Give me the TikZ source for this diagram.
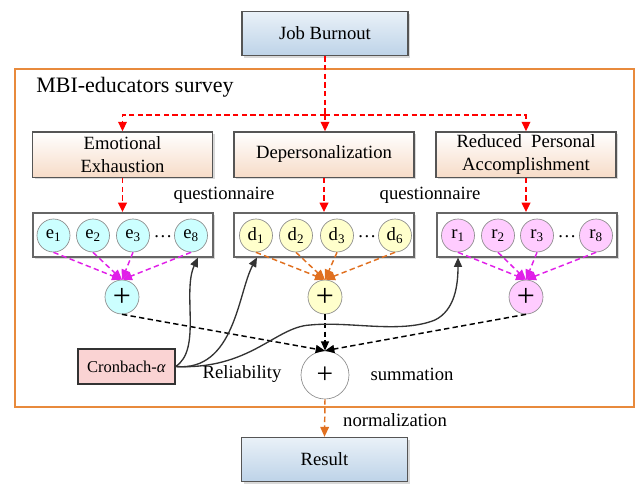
\documentclass[tikz,border=0pt]{standalone}
\usepackage{fontspec}
\setmainfont{Liberation Serif}
\usetikzlibrary{arrows.meta,shadows,calc}
\definecolor{bordergray}{HTML}{555555}
\definecolor{boxgray}{HTML}{666666}
\definecolor{outerorange}{HTML}{E88A3C}
\definecolor{blueA}{HTML}{EAF1F8}
\definecolor{blueB}{HTML}{BDD3E8}
\definecolor{peachA}{HTML}{FFFFFF}
\definecolor{peachB}{HTML}{F7DCC8}
\definecolor{ecol}{HTML}{CCFFFF}
\definecolor{dcol}{HTML}{FFFFCC}
\definecolor{rcol}{HTML}{FFCCFF}
\definecolor{crcol}{HTML}{FAD3D3}
\definecolor{mag}{HTML}{E020E8}
\definecolor{orng}{HTML}{E07020}
\definecolor{curvegray}{HTML}{333333}
\begin{document}
\begin{tikzpicture}[x=0.75pt,y=-0.75pt,
  every node/.style={font=\fontsize{14}{17}\selectfont},
  shad/.style={drop shadow={shadow xshift=1.5pt,shadow yshift=-1.5pt,fill=black!25,opacity=0.6}},
  bluebox/.style={draw=bordergray,line width=1pt,top color=blueA,bottom color=blueB,shad,
     minimum width=124.5pt,minimum height=33pt,inner sep=0pt},
  catbox/.style={draw=bordergray,line width=1pt,top color=peachA,bottom color=peachB,shad,
     minimum width=135pt,minimum height=34pt,inner sep=0pt,align=center},
  itembox/.style={draw=boxgray,line width=1.5pt,fill=white,shad,minimum width=135pt,minimum height=33pt,inner sep=0pt},
  item/.style={circle,draw=black!45,line width=0.5pt,minimum size=24.75pt,inner sep=0pt},
  eitem/.style={item,fill=ecol},
  ditem/.style={item,fill=dcol},
  ritem/.style={item,fill=rcol},
  plusnode/.style={circle,draw=black!45,line width=0.5pt,minimum size=25.5pt,inner sep=0pt,font=\fontsize{24}{24}\selectfont},
  reddash/.style={draw=red,line width=1.1pt,dash pattern=on 4pt off 2.5pt,-{Triangle[width=6.5pt,length=7pt]}},
  magdash/.style={draw=mag,line width=1.1pt,dash pattern=on 4pt off 2.5pt,-{Triangle[width=6.5pt,length=7.5pt]}},
  orgdash/.style={draw=orng,line width=1.1pt,dash pattern=on 4pt off 2.5pt,-{Triangle[width=6.5pt,length=7.5pt]}},
  blkdash/.style={draw=black,line width=1.1pt,dash pattern=on 4pt off 2.5pt,-{Triangle[width=6pt,length=7pt]}},
  curve/.style={draw=curvegray,line width=1pt,-{Triangle[width=6pt,length=7pt]}},
  lbl/.style={inner sep=0pt}
]
\useasboundingbox (0,0) rectangle (641,483);
% outer frame
\node[draw=outerorange,line width=0.8pt,minimum width=464.25pt,minimum height=253.5pt,inner sep=0pt] (outer) at (324.5,238) {};
\node[lbl,anchor=west,font=\fontsize{16.5}{20}\selectfont] (title) at (36,87) {MBI-educators survey};

\node[bluebox] (jb) at (325,33.5) {Job Burnout};
\node[catbox] (ee) at (122.5,154.5) {Emotional\\Exhaustion};
\node[catbox] (dp) at (324,154.5) {Depersonalization};
\node[catbox] (rpa) at (526,154.5) {Reduced\ \ Personal\\Accomplishment};

\coordinate (split) at (325,115);
\draw[reddash,-] (jb.south) -- (split);
\draw[reddash] (split) -| (ee.north);
\draw[reddash] (split) -| (rpa.north);
\draw[reddash] (split) -- (split |- dp.north);

\node[itembox] (ebox) at (123,235) {};
\node[itembox] (dbox) at (324,235) {};
\node[itembox] (rbox) at (526.5,235) {};

\draw[reddash] (ee.south) -- (ee.south |- ebox.north);
\draw[reddash] (dp.south) -- (dp.south |- dbox.north);
\draw[reddash] (rpa.south) -- (rpa.south |- rbox.north);

\node[lbl] (q1) at (224,195) {questionnaire};
\node[lbl] (q2) at (430,195) {questionnaire};

% items
\node[eitem] (e1) at (53.5,235.5) {e\textsubscript{1}};
\node[eitem] (e2) at (93,235.5) {e\textsubscript{2}};
\node[eitem] (e3) at (133,235.5) {e\textsubscript{3}};
\node[lbl] (edots) at (163,237) {…};
\node[eitem] (e8) at (191,235.5) {e\textsubscript{8}};

\node[ditem] (d1) at (256,235.5) {d\textsubscript{1}};
\node[ditem] (d2) at (296,235.5) {d\textsubscript{2}};
\node[ditem] (d3) at (337,235.5) {d\textsubscript{3}};
\node[lbl] (ddots) at (367,237) {…};
\node[ditem] (d6) at (395,235.5) {d\textsubscript{6}};

\node[ritem] (r1) at (458,235.5) {r\textsubscript{1}};
\node[ritem] (r2) at (498,235.5) {r\textsubscript{2}};
\node[ritem] (r3) at (537,235.5) {r\textsubscript{3}};
\node[lbl] (rdots) at (567,237) {…};
\node[ritem] (r8) at (596,235.5) {r\textsubscript{8}};

\node[plusnode,fill=ecol] (ep) at (122,297) {+};
\node[plusnode,fill=dcol] (dpl) at (325,297) {+};
\node[plusnode,fill=rcol] (rp) at (526,297) {+};

\foreach \n in {e1,e2,e3,e8} \draw[magdash] (\n.south) -- (ep.north);
\foreach \n in {d1,d2,d3,d6} \draw[orgdash] (\n.south) -- (dpl.north);
\foreach \n in {r1,r2,r3,r8} \draw[magdash] (\n.south) -- (rp.north);

\node[circle,draw=black!45,line width=0.5pt,fill=white,minimum size=36pt,inner sep=0pt,font=\fontsize{22}{22}\selectfont] (sum) at (325,375) {+};

\draw[blkdash] (ep.south) -- (sum.north);
\draw[blkdash] (dpl.south) -- (sum.north);
\draw[blkdash] (rp.south) -- (sum.north);

\node[draw=black!80,line width=0.8pt,fill=crcol,minimum width=72.75pt,minimum height=26.25pt,inner sep=0pt,font=\fontsize{12.4}{15}\selectfont] (cr) at (126.5,366.5) {Cronbach-\textit{α}};

\coordinate (c1) at (198,257.5);
\coordinate (c2) at (257,257.5);
\coordinate (c3) at (458,257.5);
\draw[curve] (cr.east) .. controls (202,350) and (182,292) .. (c1);
\draw[curve] (cr.east) .. controls (235,372) and (238,292) .. (c2);
\draw[curve] (cr.east) .. controls (250,370) and (275,327) .. (310,325)
   .. controls (350,321) and (400,334) .. (435,320)
   .. controls (455,310) and (458,285) .. (c3);

\node[lbl] (rel) at (242,374) {Reliability};
\node[lbl] (summ) at (412,374) {summation};
\node[lbl] (norm) at (395,420) {normalization};

\node[bluebox] (res) at (324.5,459.5) {Result};
\draw[orgdash] (sum.south) -- (res.north);
\end{tikzpicture}
\end{document}
